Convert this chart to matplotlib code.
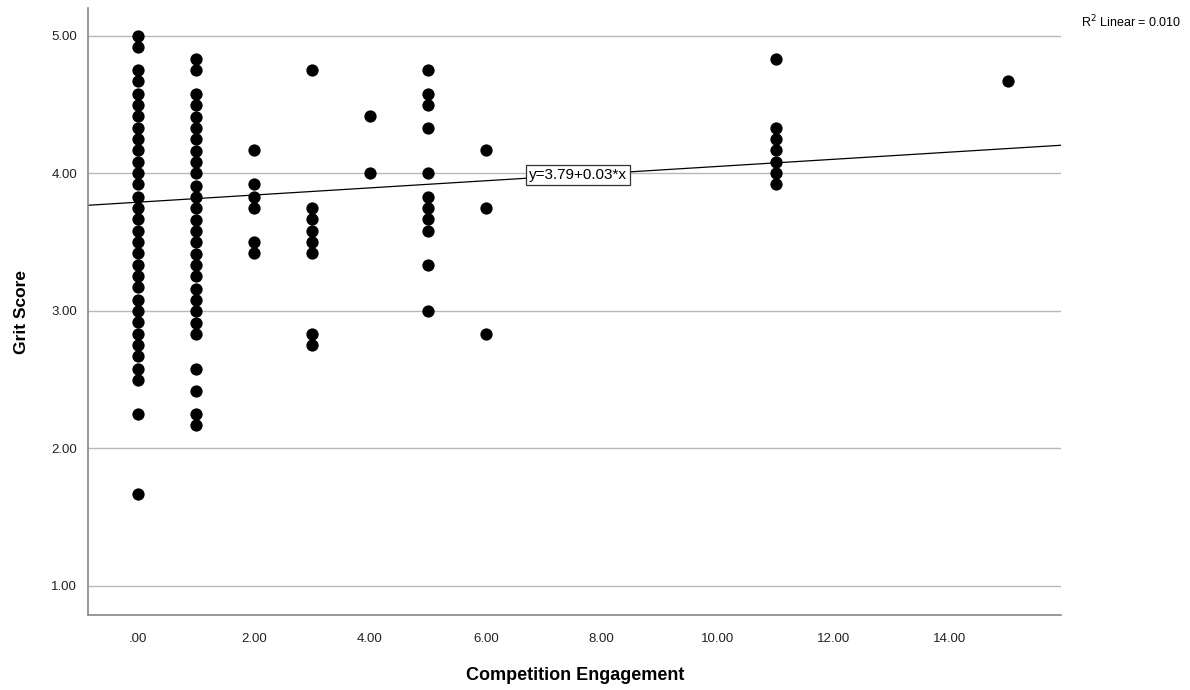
import numpy as np
import matplotlib.pyplot as plt

# grit scores come in steps of 1/12
step = 1.0 / 12

# competition engagement value -> grit scores seen at that value
x0_scores = [5.00, 4.92] + list(np.round(np.arange(4.75, 2.49, -step), 2)) + [2.25, 1.67]
x1_scores = [4.83, 4.75] + list(np.round(np.arange(4.58, 2.82, -step), 2)) + [2.58, 2.42, 2.25, 2.17]
x2_scores = [4.17, 3.92, 3.83, 3.75, 3.50, 3.42]
x3_scores = [4.75, 3.75, 3.67, 3.58, 3.50, 3.42, 2.83, 2.75]
x4_scores = [4.42, 4.00]
x5_scores = [4.75, 4.58, 4.50, 4.33, 4.00, 3.83, 3.75, 3.67, 3.58, 3.33, 3.00]
x6_scores = [4.17, 3.75, 2.83]
x11_scores = [4.83, 4.33, 4.25, 4.17, 4.08, 4.00, 3.92]
x15_scores = [4.67]

groups = {0: x0_scores, 1: x1_scores, 2: x2_scores, 3: x3_scores, 4: x4_scores,
          5: x5_scores, 6: x6_scores, 11: x11_scores, 15: x15_scores}

intercept = 3.79
slope = 0.026
fit_label = 'y=3.79+0.03*x'
r2_label = 'R$^2$ Linear = 0.010'

xticks = [0, 2, 4, 6, 8, 10, 12, 14]
yticks = [1, 2, 3, 4, 5]

xs = []
ys = []
for k, v in groups.items():
    xs += [k] * len(v)
    ys += v

fig = plt.figure(figsize=(11.9, 6.9), dpi=100)
ax = fig.add_axes([0.074, 0.109, 0.818, 0.879])

xmin, xmax = -0.86, 15.93
ax.set_xlim(xmin, xmax)
ax.set_ylim(0.79, 5.20)

for t in yticks:
    ax.axhline(t, color='#b8b8b8', lw=1.0, zorder=0)

ax.scatter(xs, ys, s=78, color='black', zorder=3, linewidths=0)

lx = np.array([xmin, xmax])
ax.plot(lx, intercept + slope * lx, color='black', lw=0.9, zorder=2)

bx = 7.59
ax.text(bx, intercept + slope * bx, fit_label, ha='center', va='center',
        fontsize=11, family='Liberation Sans', zorder=4,
        bbox=dict(boxstyle='square,pad=0.2', fc='white', ec='#333333', lw=0.9))

fig.text(0.993, 0.968, r2_label, ha='right', va='center', fontsize=9,
         family='Liberation Sans')

ax.set_xticks(xticks)
ax.set_xticklabels(['%.2f' % t if t != 0 else '.00' for t in xticks],
                   family='Liberation Sans', fontsize=9.5)
ax.set_yticks(yticks)
ax.set_yticklabels(['%.2f' % t for t in yticks], family='Liberation Sans', fontsize=9.5)
ax.tick_params(length=0, pad=13, colors='#222222')
ax.tick_params(axis='y', pad=8)

for s in ['top', 'right']:
    ax.spines[s].set_visible(False)
for s in ['left', 'bottom']:
    ax.spines[s].set_color('#888888')
    ax.spines[s].set_linewidth(1.2)

ax.set_xlabel('Competition Engagement', family='Liberation Sans',
              fontsize=13, fontweight='bold', labelpad=16)
ax.set_ylabel('Grit Score', family='Liberation Sans', fontsize=12.5,
              fontweight='bold', labelpad=16)

fig.savefig('out.png', dpi=100)
